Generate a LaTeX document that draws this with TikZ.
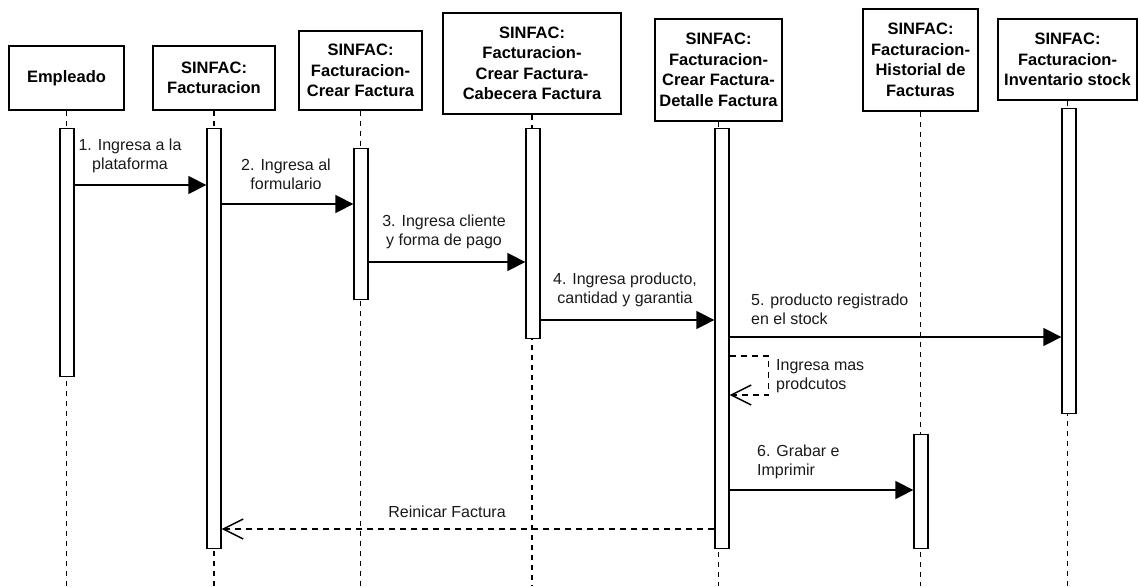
\documentclass[tikz,border=0pt]{standalone}
\usepackage{fontspec}
\setmainfont{Liberation Sans}
\usetikzlibrary{arrows.meta}
\tikzset{
  hdr/.style={draw, line width=1.6pt, fill=white, inner sep=0pt, align=center,
    font=\fontsize{16.5}{20.5}\selectfont\bfseries},
  bar/.style={draw, line width=1.3pt, fill=white, minimum width=14pt, inner sep=0pt, anchor=north},
  lifeline/.style={line width=1.5pt, dash pattern=on 5pt off 5pt},
  msg/.style={line width=1.4pt, -{Triangle[length=18pt,width=18pt]}},
  ret/.style={line width=1.4pt, dash pattern=on 6pt off 5pt, -{Straight Barb[length=20pt,width=20pt,line width=1.4pt]}},
  lbl/.style={inner sep=0pt, font=\fontsize{16}{19}\selectfont, text=black!90}
}
\begin{document}
\begin{tikzpicture}[x=1pt,y=-1pt]
\useasboundingbox (0,0) rectangle (1139,586);
\coordinate (bottom) at (0,586);

% object headers
\node[hdr, minimum width=115pt, minimum height=64pt]  (h1) at (66.5,78)   {Empleado};
\node[hdr, minimum width=122pt, minimum height=64pt]  (h2) at (214,78)    {SINFAC:\\Facturacion};
\node[hdr, minimum width=123pt, minimum height=79pt]  (h3) at (360.5,70.5) {SINFAC:\\Facturacion-\\Crear Factura};
\node[hdr, minimum width=178pt, minimum height=101pt] (h4) at (532,63.5)  {SINFAC:\\Facturacion-\\Crear Factura-\\Cabecera Factura};
\node[hdr, minimum width=127pt, minimum height=102pt] (h5) at (718.5,70)  {SINFAC:\\Facturacion-\\Crear Factura-\\Detalle Factura};
\node[hdr, minimum width=115pt, minimum height=102pt] (h6) at (920.5,60)  {SINFAC:\\Facturacion-\\Historial de\\Facturas};
\node[hdr, minimum width=139pt, minimum height=81pt]  (h7) at (1067.5,59.5) {SINFAC:\\Facturacion-\\Inventario stock};

% lifelines
\foreach \h in {h1,h2,h3,h4,h5,h6,h7}
  \draw[lifeline] (\h.south) -- (\h.south |- bottom);

% activation bars
\node[bar, minimum height=248pt] (b1) at (67,128)   {};
\node[bar, minimum height=420pt] (b2) at (214,128)  {};
\node[bar, minimum height=151pt] (b3) at (361,148)  {};
\node[bar, minimum height=210pt] (b4) at (533,128)  {};
\node[bar, minimum height=420pt] (b5) at (722,128)  {};
\node[bar, minimum height=114pt] (b6) at (921,434)  {};
\node[bar, minimum height=305pt] (b7) at (1069,108) {};

% message levels
\coordinate (m1) at (0,185);
\coordinate (m2) at (0,204);
\coordinate (m3) at (0,262);
\coordinate (m4) at (0,320);
\coordinate (m5) at (0,337);
\coordinate (s1) at (0,356);
\coordinate (s2) at (0,395);
\coordinate (m6) at (0,490);
\coordinate (m7) at (0,529);

% messages
\draw[msg] (b1.east |- m1) -- (b2.west |- m1);
\draw[msg] (b2.east |- m2) -- (b3.west |- m2);
\draw[msg] (b3.east |- m3) -- (b4.west |- m3);
\draw[msg] (b4.east |- m4) -- (b5.west |- m4);
\draw[msg] (b5.east |- m5) -- (b7.west |- m5);
\draw[ret] (b5.east |- s1) -- ++(39,0) -- ++(0,39) -- (b5.east |- s2);
\draw[msg] (b5.east |- m6) -- (b6.west |- m6);
\draw[ret] (b5.west |- m7) -- (b2.east |- m7);

% message labels
\node[lbl, align=center] (l1) at (130,156)   {1. Ingresa a la\\plataforma};
\node[lbl, align=center] (l2) at (286,174.5) {2. Ingresa al\\formulario};
\node[lbl, align=center] (l3) at (444,232)   {3. Ingresa cliente\\y forma de pago};
\node[lbl, align=center] (l4) at (625,290)   {4. Ingresa producto,\\cantidad y garantia};
\node[lbl, align=left, anchor=west] (l5) at (751,309) {5. producto registrado\\en el stock};
\node[lbl, align=left, anchor=west] (ls) at (776,376) {Ingresa mas\\prodcutos};
\node[lbl, align=left, anchor=west] (l6) at (757,462) {6. Grabar e\\Imprimir};
\node[lbl] (l7) at (447,512) {Reinicar Factura};
\end{tikzpicture}
\end{document}
